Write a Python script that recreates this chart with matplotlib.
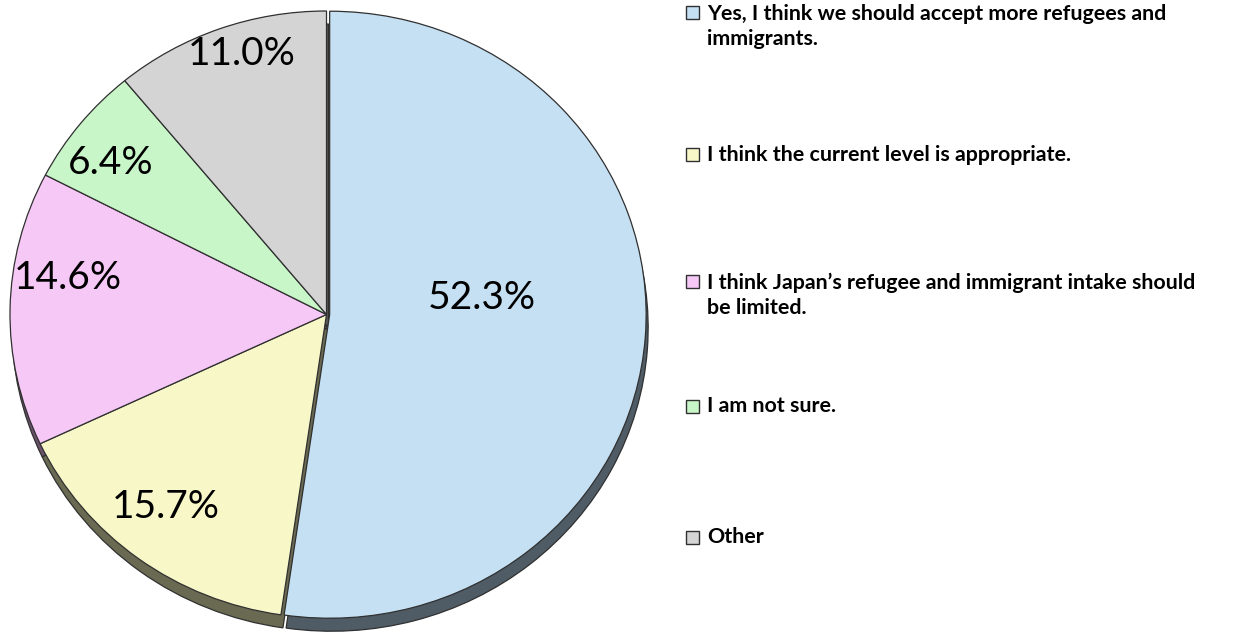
import matplotlib.pyplot as plt
from matplotlib.patches import Rectangle

categories = [
    "Yes, I think we should accept more refugees and\nimmigrants.",
    "I think the current level is appropriate.",
    "I think Japan\u2019s refugee and immigrant intake should\nbe limited.",
    "I am not sure.",
    "Other",
]
shares = [52.3, 15.7, 14.6, 6.4, 11.0]

top_colors = ["#C5E0F3", "#F7F7C8", "#F6C8F6", "#C8F6C8", "#D4D4D4"]
side_colors = ["#4F5C66", "#6A6A52", "#6A526A", "#526A52", "#5A5A5A"]

W, H = 1235, 632
fig = plt.figure(figsize=(W / 100, H / 100), dpi=100)
ax = fig.add_axes([0, 0, 1, 1])

# pie centre and radii in pixels (slightly squashed vertically)
cx, cy, rx, ry = 326.5, 314.5, 316.5, 303.5
side_dx, side_dy = 2 / rx, 13 / ry
explode = [0.01, 0, 0, 0, 0]
edge = dict(edgecolor="#303030", linewidth=0.9)

# side of the disc: same pie shifted down, drawn underneath
ax.pie(shares, colors=side_colors, startangle=90, counterclock=False,
       explode=explode, center=(side_dx, -side_dy), wedgeprops=edge)

wedges, _, pct_texts = ax.pie(
    shares, colors=top_colors, startangle=90, counterclock=False,
    explode=explode, center=(0, 0), wedgeprops=edge,
    autopct="%.1f%%", textprops=dict(fontsize=28, family="Lato", color="black"))

ax.set_aspect("auto")
ax.set_xlim(-cx / rx, (W - cx) / rx)
ax.set_ylim(-(H - cy) / ry, cy / ry)
ax.axis("off")

# percent label placement (pixel centres)
label_px = [(482, 298), (166, 507), (68, 278), (111, 163), (242, 54)]
for t, (px, py) in zip(pct_texts, label_px):
    t.set_position(((px - cx) / rx, (cy - py) / ry))
    t.set_ha("center")
    t.set_va("center")

# legend entries on the right; base = baseline of the first text line
baselines = [18, 161, 287, 412, 543]
line_gap = 27
for w, label, base in zip(wedges, categories, baselines):
    fig.patches.append(Rectangle((686 / W, 1 - (base + 0.5) / H), 13 / W, 13 / H,
                                 transform=fig.transFigure,
                                 facecolor=w.get_facecolor(),
                                 edgecolor="#303030", linewidth=1.0))
    last = base + line_gap * label.count("\n")
    fig.text(707 / W, 1 - last / H, label, fontsize=15.4, family="Lato",
             fontweight="bold", va="baseline", ha="left", linespacing=1.3)

fig.savefig("out.png", dpi=100, facecolor="white")
